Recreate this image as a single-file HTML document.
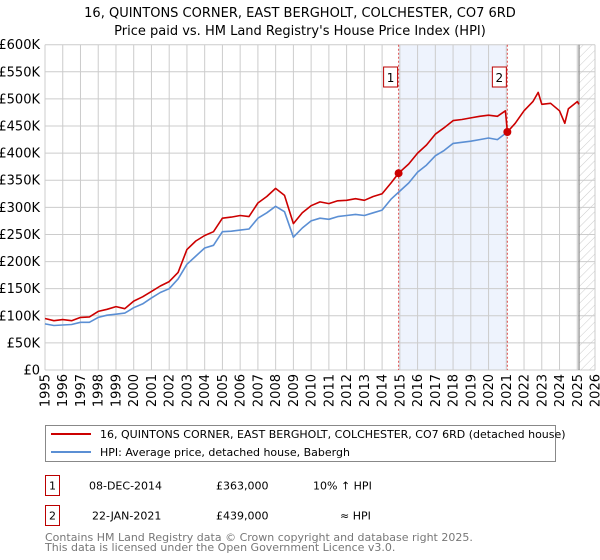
<!DOCTYPE html>
<html><head><meta charset="utf-8"><style>
body{margin:0;background:#fff;font-family:"DejaVu Sans","Liberation Sans",sans-serif;}
#wrap{position:relative;width:600px;height:560px;overflow:hidden;}
svg text{font-family:"DejaVu Sans","Liberation Sans",sans-serif;}
</style></head><body><div id="wrap">
<svg id="chart" width="600" height="560"></svg>
<svg style="position:absolute;left:0;top:0" width="600" height="560">
<text x="300" y="17" text-anchor="middle" font-size="13">16, QUINTONS CORNER, EAST BERGHOLT, COLCHESTER, CO7 6RD</text>
<text x="300" y="35" text-anchor="middle" font-size="13">Price paid vs. HM Land Registry's House Price Index (HPI)</text>
<g>
<rect x="45.5" y="425.5" width="510" height="36" fill="#fff" stroke="#888"/>
<line x1="51" x2="91" y1="434" y2="434" stroke="#cc0000" stroke-width="2"/>
<text x="100" y="438" font-size="11">16, QUINTONS CORNER, EAST BERGHOLT, COLCHESTER, CO7 6RD (detached house)</text>
<line x1="51" x2="91" y1="452" y2="452" stroke="#5b8fd4" stroke-width="2"/>
<text x="100" y="456" font-size="11">HPI: Average price, detached house, Babergh</text>
</g>
<g font-size="11">
<rect x="45.5" y="475.5" width="14" height="20" fill="none" stroke="#b00"/>
<text x="52.5" y="489.5" text-anchor="middle">1</text>
<text x="89" y="489.5">08-DEC-2014</text>
<text x="216" y="489.5">£363,000</text>
<text x="313" y="489.5">10% ↑ HPI</text>
<rect x="45.5" y="505.5" width="14" height="20" fill="none" stroke="#b00"/>
<text x="52.5" y="519.5" text-anchor="middle">2</text>
<text x="92" y="519.5">22-JAN-2021</text>
<text x="216" y="519.5">£439,000</text>
<text x="340" y="519.5">≈ HPI</text>
</g>
<text x="45" y="541" font-size="11" fill="#777">Contains HM Land Registry data © Crown copyright and database right 2025.</text>
<text x="45" y="551" font-size="11" fill="#777">This data is licensed under the Open Government Licence v3.0.</text>
</svg>
</div>
<script>
const hpiYears=[1995,1995.5,1996,1996.5,1997,1997.5,1998,1998.5,1999,1999.5,2000,2000.5,2001,2001.5,2002,2002.5,2003,2003.5,2004,2004.5,2005,2005.5,2006,2006.5,2007,2007.5,2008,2008.5,2009,2009.5,2010,2010.5,2011,2011.5,2012,2012.5,2013,2013.5,2014,2014.5,2015,2015.5,2016,2016.5,2017,2017.5,2018,2018.5,2019,2019.5,2020,2020.5,2021.06];
const hpiValues=[85,82,83,84,88,88,97,101,103,105,115,122,133,143,150,168,195,210,225,230,255,256,258,260,280,290,302,292,245,262,275,280,278,283,285,287,285,290,295,315,330,345,365,378,395,405,418,420,422,425,428,425,439];
const priceYears=[1995,1995.5,1996,1996.5,1997,1997.5,1998,1998.5,1999,1999.5,2000,2000.5,2001,2001.5,2002,2002.5,2003,2003.5,2004,2004.5,2005,2005.5,2006,2006.5,2007,2007.5,2008,2008.5,2009,2009.5,2010,2010.5,2011,2011.5,2012,2012.5,2013,2013.5,2014,2014.5,2014.93,2015.5,2016,2016.5,2017,2017.5,2018,2018.5,2019,2019.5,2020,2020.5,2020.95,2021.06,2021.5,2022,2022.5,2022.8,2023,2023.5,2024,2024.3,2024.5,2025,2025.1];
const priceValues=[95,91,93,91,97,98,108,112,117,113,127,135,145,155,163,180,222,238,248,255,280,282,285,283,308,320,335,322,270,290,303,310,307,312,313,316,313,320,325,345,363,380,400,415,435,447,460,462,465,468,470,468,478,439,455,478,495,512,490,492,478,455,482,495,490];
const saleYears=[2014.93,2021.06];
const saleValues=[363,439];
const saleLabels=["1","2"];
const yTicks=[0,50,100,150,200,250,300,350,400,450,500,550,600];
const yTickLabels=["£0","£50K","£100K","£150K","£200K","£250K","£300K","£350K","£400K","£450K","£500K","£550K","£600K"];
const xTicks=[1995,1996,1997,1998,1999,2000,2001,2002,2003,2004,2005,2006,2007,2008,2009,2010,2011,2012,2013,2014,2015,2016,2017,2018,2019,2020,2021,2022,2023,2024,2025,2026];

const NS="http://www.w3.org/2000/svg";
const svg=document.getElementById('chart');
const L=45,R=595,T=44.7,B=370;
const xs=y=>L+(y-1995)/31*(R-L);
const ys=v=>B-v/600*(B-T);
function mk(tag,attrs,parent){const e=document.createElementNS(NS,tag);for(const k in attrs)e.setAttribute(k,attrs[k]);(parent||svg).appendChild(e);return e;}

const defs=mk('defs',{});
const pat=mk('pattern',{id:'hatch',width:6,height:6,patternUnits:'userSpaceOnUse',patternTransform:'rotate(45)'},defs);
mk('line',{x1:0,y1:0,x2:0,y2:6,stroke:'#ccc','stroke-width':1},pat);

let e=mk('rect',{x:xs(saleYears[0]),y:T,width:xs(saleYears[1])-xs(saleYears[0]),height:B-T,fill:'#eef3fd'});


e=mk('rect',{x:xs(2025.1),y:T,width:R-xs(2025.1),height:B-T,fill:'url(#hatch)'});



yTicks.forEach((v,i)=>{
 const g=mk('line',{x1:L,x2:R,y1:ys(v),y2:ys(v),stroke:'#ccc','stroke-width':1});
 
 
 const t=mk('text',{x:40,y:ys(v)+4.5,'text-anchor':'end','font-size':13,fill:'#000'});
 t.textContent=yTickLabels[i];
 
 
});
xTicks.forEach(yr=>{
 const g=mk('line',{x1:xs(yr),x2:xs(yr),y1:T,y2:B,stroke:'#ccc','stroke-width':1});
 
 
 const t=mk('text',{transform:`translate(${xs(yr)+4.5},${B+4}) rotate(-90)`,'text-anchor':'end','font-size':13,fill:'#000'});
 t.textContent=yr;
 
 
});
e=mk('line',{x1:xs(2025.1),x2:xs(2025.1),y1:T,y2:B,stroke:'#888','stroke-width':1.2});



saleYears.forEach(yr=>{
 const l=mk('line',{x1:xs(yr),x2:xs(yr),y1:T,y2:B,stroke:'#e05050','stroke-width':1,'stroke-dasharray':'2,2'});
 
 
});

function line(xsArr,vs,color,name){
 const d=xsArr.map((x,i)=>(i?'L':'M')+xs(x).toFixed(1)+','+ys(vs[i]).toFixed(1)).join('');
 const p=mk('path',{d,fill:'none',stroke:color,'stroke-width':1.6,'stroke-linejoin':'round'});
 
 
}
line(hpiYears,hpiValues,'#5b8fd4','hpi-line');
line(priceYears,priceValues,'#cc0000','price-paid-line');

saleYears.forEach((yr,i)=>{
 const c=mk('circle',{cx:xs(yr),cy:ys(saleValues[i]),r:4,fill:'#cc0000'});
 
 
 const bx=xs(yr)-15;
 const r=mk('rect',{x:bx,y:67,width:14,height:20,fill:'#fff',stroke:'#b00','stroke-width':1});
 
 
 const t=mk('text',{x:bx+7,y:82,'text-anchor':'middle','font-size':12,fill:'#000'});
 t.textContent=saleLabels[i];
 
 
});
</script>
</body></html>
